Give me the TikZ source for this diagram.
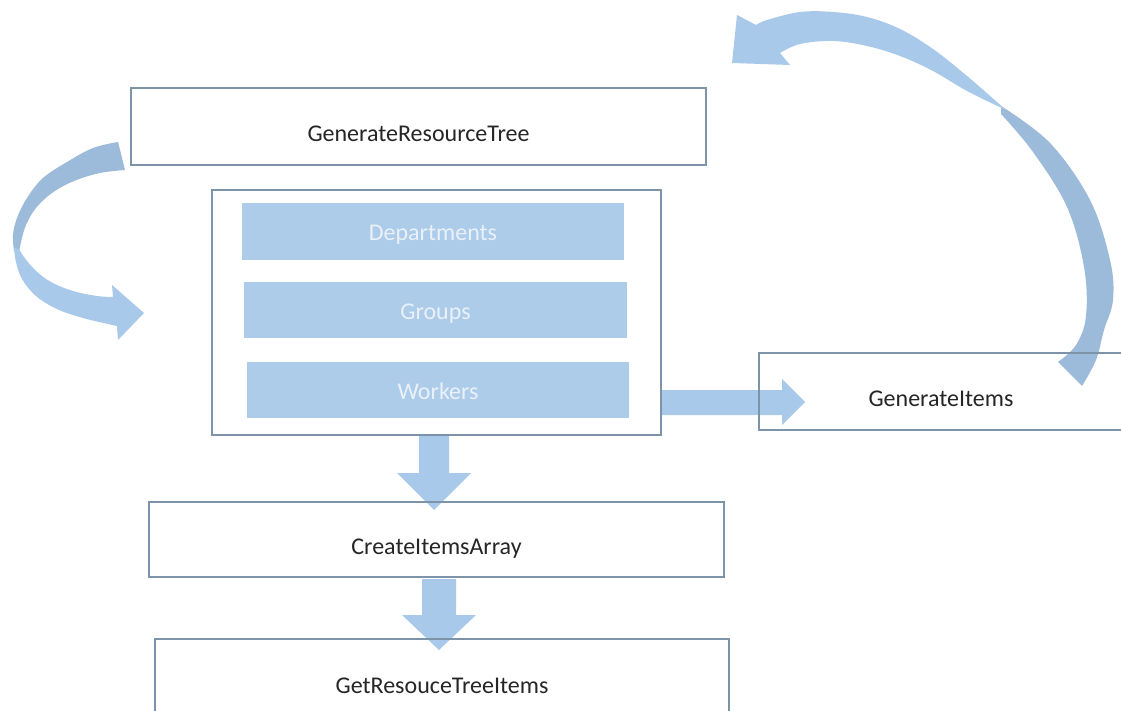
\documentclass[tikz,border=0pt]{standalone}
\usepackage{fontspec}
\setmainfont{Carlito}

\definecolor{arrowlight}{RGB}{169,201,234}
\definecolor{arrowdark}{RGB}{156,187,218}
\definecolor{barfill}{RGB}{172,204,234}
\definecolor{framecol}{RGB}{125,148,168}
\definecolor{labelcol}{RGB}{38,38,38}
\definecolor{barlabel}{RGB}{234,241,249}

\tikzset{
  framebox/.style={draw=framecol, line width=1.3pt, inner sep=0pt,
    font=\fontsize{24}{28}\selectfont, text=labelcol,
    text height=35pt, text depth=5.5pt},
  bar/.style={fill=barfill, inner sep=0pt,
    font=\fontsize{24}{28}\selectfont, text=barlabel,
    text height=24pt, text depth=5.5pt},
  lightblock/.style={fill=arrowlight},
  darkblock/.style={fill=arrowdark},
}

\begin{document}
\begin{tikzpicture}[x=1pt,y=-1pt]
\useasboundingbox (0,0) rectangle (1121,711);
\clip (0,0) rectangle (1121,711);
\fill[white] (0,0) rectangle (1121,711);

% ---- block arrows (drawn first, frames go on top) ----
% curved arrow on the left: back (darker) strip, then the front strip with its head
\fill[darkblock] plot[smooth, tension=0.6] coordinates {(118,142) (93,148) (67,162) (43,178) (27,198) (17,218) (13,235) (14,251)}
  -- plot[smooth, tension=0.6] coordinates {(19,253) (21,242) (26,225) (36,208) (52,193) (74,181) (100,173) (125,170)} -- cycle;
\fill[lightblock] plot[smooth, tension=0.6] coordinates {(14,248) (16,262) (22,279) (36,296) (57,309) (83,318) (117,326)}
  -- (118,340) -- (144,313) -- (112,285) -- (113,297)
  -- plot[smooth, tension=0.6] coordinates {(113,297) (97,296) (73,291) (51,282) (35,270) (24,257) (19,249)} -- cycle;

% curved arrow on the upper right: back strip, then front strip with head
\fill[darkblock] plot[smooth, tension=0.6] coordinates {(1001,106) (1050,143) (1090,200) (1110,260) (1113,300) (1104,330) (1096,360) (1082,386)}
  -- plot[smooth, tension=0.6] coordinates {(1058,362) (1076,345) (1086,316) (1084,267) (1067,207) (1033,152) (1001,114)} -- cycle;
\fill[lightblock] (732,63) -- (737,15) -- (756,25)
  -- plot[smooth, tension=0.6] coordinates {(756,25) (767,20) (800,12) (833,12) (867,17) (900,29) (933,49) (967,76) (1006,110)}
  -- plot[smooth, tension=0.6] coordinates {(1006,110) (967,91) (933,71) (900,56) (867,46) (833,41) (800,44) (780,53)}
  -- (790,65) -- cycle;

% straight block arrows
\fill[lightblock] (661,390) -- (782,390) -- (782,379) -- (805,402) -- (782,425) -- (782,415) -- (661,415) -- cycle;
\fill[lightblock] (419,436) -- (449,436) -- (449,473) -- (471,473) -- (434,510) -- (397,473) -- (419,473) -- cycle;
\fill[lightblock] (422,579) -- (456,579) -- (456,615) -- (476,615) -- (439,650) -- (402,615) -- (422,615) -- cycle;

% ---- boxes ----
\node[framebox, minimum width=575pt, minimum height=77pt] (grt) at (418.5,126.5) {GenerateResourceTree};
\node[framebox, minimum width=449pt, minimum height=245pt] (hier) at (436.5,312.5) {};
\node[bar, minimum width=382pt, minimum height=57pt] (dep) at (433,231.5) {Departments};
\node[bar, minimum width=383pt, minimum height=56pt] (grp) at (435.5,310) {Groups};
\node[bar, minimum width=382pt, minimum height=56pt] (wrk) at (438,390) {Workers};
\node[framebox, minimum width=364pt, minimum height=77pt] (gi) at (941,391.5) {GenerateItems};
\node[framebox, minimum width=575pt, minimum height=75pt] (cia) at (436.5,539.5) {CreateItemsArray};
\node[framebox, minimum width=574pt, minimum height=80pt] (grti) at (442,679) {GetResouceTreeItems};
\end{tikzpicture}
\end{document}
